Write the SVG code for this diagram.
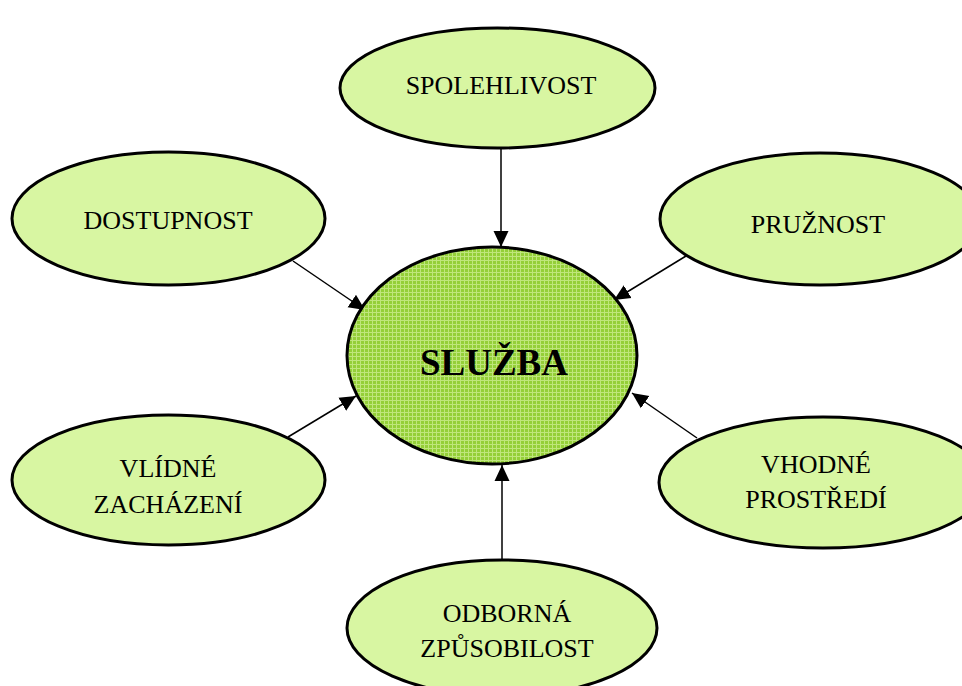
<svg xmlns="http://www.w3.org/2000/svg" width="962" height="686" viewBox="0 0 962 686">
<style>
.node{fill:#d8f6a2;stroke:#000;stroke-width:3}
.lbl{font-family:"Liberation Serif","Times New Roman",serif;font-size:26px;fill:#000;text-anchor:middle}
.conn{stroke:#000;stroke-width:1.5;fill:none;marker-end:url(#arr)}
</style>
<defs>
<marker id="arr" markerUnits="userSpaceOnUse" markerWidth="16" markerHeight="16" viewBox="0 0 16 16" refX="16" refY="8" orient="auto">
<path d="M0,0.5 L16,8 L0,15.5 Z" fill="#000"/>
</marker>
<pattern id="grid" patternUnits="userSpaceOnUse" width="4" height="4">
<rect width="4" height="4" fill="#94cf38"/>
<rect x="0" y="0" width="4" height="1" fill="#bfe67c"/>
<rect x="0" y="0" width="1" height="4" fill="#bfe67c"/>
</pattern>
</defs>
<rect width="962" height="686" fill="#fff"/>
<g id="connectors">
<line class="conn" x1="501" y1="148" x2="501" y2="247"/>
<line class="conn" x1="293" y1="261" x2="365" y2="310"/>
<line class="conn" x1="686" y1="256" x2="614" y2="300"/>
<line class="conn" x1="288" y1="437" x2="356" y2="396"/>
<line class="conn" x1="697" y1="438" x2="632" y2="393"/>
<line class="conn" x1="502" y1="560" x2="502" y2="465"/>
</g>
<g id="sluzba">
<ellipse cx="492" cy="355.5" rx="145" ry="108.5" fill="url(#grid)" stroke="#000" stroke-width="3"/>
<text x="494" y="375" class="lbl" style="font-size:37px;font-weight:bold">SLUŽBA</text>
</g>
<g id="spolehlivost">
<ellipse class="node" cx="497.5" cy="88" rx="157.5" ry="60"/>
<text x="501" y="94" class="lbl">SPOLEHLIVOST</text>
</g>
<g id="dostupnost">
<ellipse class="node" cx="168.5" cy="218.5" rx="156.5" ry="66.5"/>
<text x="168" y="229" class="lbl">DOSTUPNOST</text>
</g>
<g id="pruznost">
<ellipse class="node" cx="820" cy="219" rx="160" ry="66"/>
<text x="818" y="233" class="lbl">PRUŽNOST</text>
</g>
<g id="vlidne">
<ellipse class="node" cx="168.5" cy="480" rx="156.5" ry="65"/>
<text x="168" y="477" class="lbl">VLÍDNÉ</text>
<text x="168" y="513" class="lbl">ZACHÁZENÍ</text>
</g>
<g id="vhodne">
<ellipse class="node" cx="823" cy="482.5" rx="164" ry="65.5"/>
<text x="816" y="473" class="lbl">VHODNÉ</text>
<text x="816" y="508" class="lbl">PROSTŘEDÍ</text>
</g>
<g id="odborna">
<ellipse class="node" cx="502" cy="628" rx="155" ry="68"/>
<text x="507" y="622" class="lbl">ODBORNÁ</text>
<text x="507" y="657" class="lbl">ZPŮSOBILOST</text>
</g>
</svg>
